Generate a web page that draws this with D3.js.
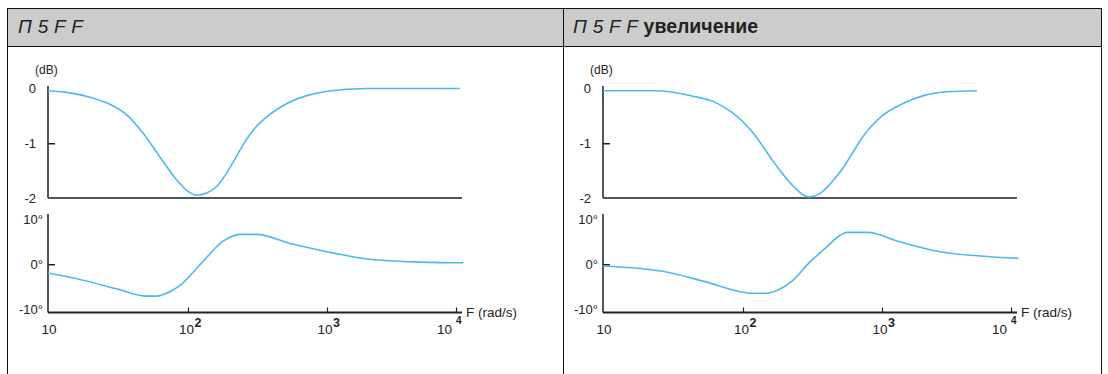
<!DOCTYPE html>
<html>
<head>
<meta charset="utf-8">
<script src="https://cdn.jsdelivr.net/npm/d3@7"></script>
<style>
  body { margin: 0; background: #fff; }
  text { font-family: Arial, "Liberation Sans", sans-serif; fill: #222; }
</style>
</head>
<body>
<div id="chart"></div>
<script>
(function () {

  // panel titles
  var titles = ["П 5 F F", "П 5 F F"]
  var titleSuffix = ["", "увеличение"]

  // frequency axis (rad/s)
  var freqTicks = [10, 100, 1000, 10000]
  var tickExponents = ["", "2", "3", "4"]
  var magTicks = [0, -1, -2]
  var phaseTicks = [10, 0, -10]

  // left panel: magnitude (dB) and phase (deg)
  var magLeftF  = [10, 13.6, 20, 26.2, 36.5, 48, 63, 83, 100, 115, 136, 161, 212, 237, 295, 368, 485, 714, 1000, 2000, 10700]
  var magLeftDb = [-0.04, -0.07, -0.16, -0.26, -0.48, -0.82, -1.25, -1.67, -1.88, -1.95, -1.91, -1.79, -1.34, -1.12, -0.76, -0.52, -0.31, -0.13, -0.05, 0, 0]
  var phLeftF   = [10, 17.9, 31, 50.7, 59.7, 74.3, 87.7, 122, 179, 237, 312, 542, 1000, 1910, 4670, 11400]
  var phLeftDeg = [-1.8, -3.3, -5.1, -6.6, -6.6, -5.7, -4.4, -0.1, 4.8, 6.2, 6.2, 4.3, 2.6, 1.2, 0.5, 0.3]

  // right panel (увеличение)
  var magRightF  = [10, 23.6, 44, 61.6, 85, 119, 166, 231, 296, 360, 501, 758, 1000, 1470, 2100, 3190, 5450]
  var magRightDb = [-0.04, -0.04, -0.14, -0.24, -0.45, -0.82, -1.34, -1.79, -1.98, -1.91, -1.52, -0.82, -0.50, -0.27, -0.13, -0.06, -0.04]
  var phRightF   = [10, 28.5, 52, 116, 149, 180, 225, 304, 401, 500, 559, 789, 1390, 2830, 5780, 11500]
  var phRightDeg = [-0.35, -1.6, -3.5, -6.0, -6.0, -5.3, -3.5, 0.5, 3.6, 6.0, 6.6, 6.6, 4.6, 2.6, 1.7, 1.2]

  var width = 1108,
      height = 374

  var svg = d3.select("#chart").append("svg")
      .attr("width", width)
      .attr("height", height)

  // table frame
  var left = 7, mid = 563, right = 1101, top = 8, headBottom = 46
  svg.append("rect")
    .attr("x", left).attr("y", top)
    .attr("width", right - left).attr("height", headBottom - top)
    .attr("fill", "#cccccc")
  var frame = svg.append("g").attr("stroke", "#111").attr("stroke-width", 1).attr("shape-rendering", "crispEdges")
  frame.append("line").attr("x1", left).attr("x2", right).attr("y1", top).attr("y2", top)
  frame.append("line").attr("x1", left).attr("x2", right).attr("y1", headBottom).attr("y2", headBottom)
  ;[left, mid, right].forEach(function (x) {
    frame.append("line").attr("x1", x).attr("x2", x).attr("y1", top).attr("y2", height)
  })

  // label placement relative to each tick (start of "10")
  var labelShift = [-6.5, -9, -9.5, -19]

  function drawPanel(i, dx, magF, magDb, phF, phDeg) {
    // header text
    var t = svg.append("text")
      .attr("x", [18, 573][i]).attr("y", 33)
      .style("font-size", "19px")
    t.append("tspan").text(titles[i])
      .style("font-style", "italic").style("letter-spacing", "0.3px")
    if (titleSuffix[i]) {
      t.append("tspan").text(" " + titleSuffix[i])
        .style("font-weight", "bold").style("font-size", "19.5px")
    }

    var g = svg.append("g").attr("transform", "translate(" + dx + ",0)")

    var x = d3.scaleLog()
      .domain(freqTicks)
      .range([48, 188, 327, 456])

    var yMag = d3.scaleLinear().domain([0, -2]).range([88.5, 198])
    var yPh = d3.scaleLinear().domain([10, -10]).range([216, 312.5])

    var axisColor = "#555"

    // magnitude y axis
    var magAxis = g.append("g")
      .attr("transform", "translate(48,0)")
      .call(d3.axisLeft(yMag).tickValues(magTicks).tickSizeInner(-7).tickSizeOuter(0).tickPadding(12)
        .tickFormat(function (d) { return d === 0 ? "0" : String(d) }))
    magAxis.select(".domain").attr("stroke", axisColor).attr("stroke-width", 2).attr("d", "M0,86V198")
    magAxis.selectAll(".tick line").attr("stroke", "#222").attr("stroke-width", 1.5)
      .filter(function (d) { return d !== -1 }).remove()
    magAxis.selectAll(".tick text").style("font-size", "13px").attr("fill", "#222")
      .style("font-family", "Arial, 'Liberation Sans', sans-serif")

    g.append("text").attr("x", 35).attr("y", 74).style("font-size", "12px").text("(dB)")

    // magnitude baseline
    g.append("line")
      .attr("x1", 48).attr("x2", x(10000) + 6)
      .attr("y1", yMag(-2)).attr("y2", yMag(-2))
      .attr("stroke", axisColor).attr("stroke-width", 2)

    // phase y axis
    var phAxis = g.append("g")
      .attr("transform", "translate(48,0)")
      .call(d3.axisLeft(yPh).tickValues(phaseTicks).tickSizeInner(-7).tickSizeOuter(0).tickPadding(5)
        .tickFormat(function (d) { return d + "°" }))
    phAxis.select(".domain").attr("stroke", axisColor).attr("stroke-width", 2).attr("d", "M0,214V312.5")
    phAxis.selectAll(".tick line").attr("stroke", "#222").attr("stroke-width", 1.5)
      .filter(function (d) { return d !== 0 }).remove()
    phAxis.selectAll(".tick text").style("font-size", "13px").attr("fill", "#222")
      .style("font-family", "Arial, 'Liberation Sans', sans-serif")
      .attr("dy", function (d) { return d === 10 ? "0.6em" : d === -10 ? "0.1em" : "0.32em" })

    // frequency axis
    var fAxis = g.append("g")
      .attr("transform", "translate(0," + yPh(-10) + ")")
      .call(d3.axisBottom(x).tickValues(freqTicks.slice(1)).tickSizeInner(-5).tickSizeOuter(0).tickFormat(""))
    fAxis.select(".domain").remove()
    fAxis.selectAll(".tick line").attr("stroke", "#222").attr("stroke-width", 1.2)
    fAxis.append("line")
      .attr("x1", 48).attr("x2", x(10000) + 6)
      .attr("stroke", "#222").attr("stroke-width", 2)

    freqTicks.forEach(function (f, k) {
      var lab = g.append("text")
        .attr("x", x(f) + labelShift[k])
        .attr("y", 334)
        .style("font-size", "13.5px")
      lab.append("tspan").text("10")
      if (tickExponents[k]) {
        lab.append("tspan").text(tickExponents[k])
          .attr("dy", k === 3 ? -10 : -7)
          .attr("dx", k === 3 ? 4 : 0.5)
          .style("font-size", k === 3 ? "10px" : "12.5px").style("font-weight", "bold")
      }
    })

    g.append("text")
      .attr("x", x(10000) + 10).attr("y", 317)
      .style("font-size", "13.5px")
      .text("F (rad/s)")

    var curveColor = "#4cbbe9"

    var magLine = d3.line()
      .x(function (d) { return x(d[0]) })
      .y(function (d) { return yMag(d[1]) })
      .curve(d3.curveMonotoneX)

    var phLine = d3.line()
      .x(function (d) { return x(d[0]) })
      .y(function (d) { return yPh(d[1]) })
      .curve(d3.curveMonotoneX)

    g.append("path")
      .datum(d3.zip(magF, magDb))
      .attr("fill", "none")
      .attr("stroke", curveColor)
      .attr("stroke-width", 1.6)
      .attr("d", magLine)

    g.append("path")
      .datum(d3.zip(phF, phDeg))
      .attr("fill", "none")
      .attr("stroke", curveColor)
      .attr("stroke-width", 1.6)
      .attr("d", phLine)
  }

  drawPanel(0, 0, magLeftF, magLeftDb, phLeftF, phLeftDeg)
  drawPanel(1, 555, magRightF, magRightDb, phRightF, phRightDeg)

})()
</script>
</body>
</html>
